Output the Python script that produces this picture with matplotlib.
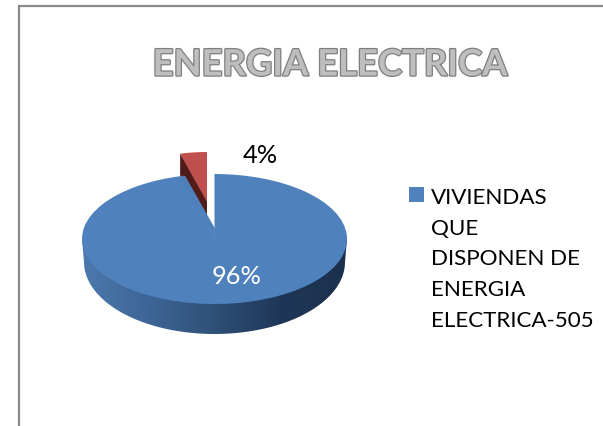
import numpy as np
import matplotlib
matplotlib.use("Agg")
import matplotlib.pyplot as plt
import matplotlib.patheffects as pe
from matplotlib.patches import Rectangle, PathPatch, Polygon
from matplotlib.path import Path

title = "ENERGIA ELECTRICA"
categories = ["VIVIENDAS\nQUE\nDISPONEN DE\nENERGIA\nELECTRICA-505", "OTRAS"]
values = [96, 4]
value_labels = ["96%", "4%"]

W, H = 603, 426
CX, CY, RX, RY = 214.5, 239.0, 132.5, 65.0
K = RX / RY


def Y(py):
    return (H - py) * K


fig = plt.figure(figsize=(W / 100, H / 100), dpi=100, facecolor="white")
ax = fig.add_axes([0, 0, 1, 1])
wedges, _ = ax.pie(values, startangle=90, counterclock=False,
                   colors=["#4f81bd", "#c0504d"], center=(CX, Y(CY)), radius=RX,
                   wedgeprops=dict(linewidth=0))
ax.set_aspect("auto")
ax.set_xlim(0, W)
ax.set_ylim(0, H * K)
ax.axis("off")

# chart border, running off the canvas on the right and bottom
ax.add_patch(Rectangle((19, Y(H + 10)), W, Y(6) - Y(H + 10), fill=False,
                       edgecolor="#8a8a8a", linewidth=1.6, zorder=1))

# side wall with horizontal gradient
t = np.linspace(np.pi, 2 * np.pi, 120)
bx, by = 214.5 + 130.5 * np.cos(t), 262 + 72 * (-np.sin(t))
wall = np.column_stack([np.r_[CX - RX, bx, CX + RX], Y(np.r_[CY, by, CY])])
clip = PathPatch(Path(wall), facecolor="none", edgecolor="none", transform=ax.transData)
ax.add_patch(clip)
stops = np.array([[0x4c, 0x79, 0xad], [0x3d, 0x66, 0x96], [0x2f, 0x50, 0x78],
                  [0x1f, 0x37, 0x57], [0x1b, 0x30, 0x4d]]) / 255
grad = np.array([np.interp(np.linspace(0, 1, 256), [0, .25, .5, .75, 1], stops[:, i]) for i in range(3)]).T
im = ax.imshow(grad[None, :, :], extent=(82, 347, Y(340), Y(230)), aspect="auto", zorder=1.5)
im.set_clip_path(clip)
ax.set_xlim(0, W)
ax.set_ylim(0, H * K)

# pulled-out slice, below the large one
red = wedges[1]
red.set_center((207, Y(205)))
red.set_radius(108)
red.set_zorder(2.05)
a = np.deg2rad(red.theta2)
lx, ly = 207 + 108 * np.cos(a), Y(205) + 108 * np.sin(a)
ax.add_patch(Polygon([(lx, ly), (207, Y(202)), (207, Y(220)), (lx, ly - 60)],
                     facecolor="#4f1c1a", edgecolor="none", zorder=2.1))

# top face of the large slice; its tip sits above the ellipse centre
wedges[0].set_zorder(2.3)
end = np.deg2rad(wedges[0].theta1)
ex, ey = CX + RX * np.cos(end), Y(CY) + RX * np.sin(end)
ax.add_patch(Polygon([(CX, Y(CY)), (ex, ey), (185, Y(176.5)), (CX, Y(228.5))],
                     facecolor="#4f81bd", edgecolor="#4f81bd", linewidth=0.6, zorder=2.4))

font = "Lato"
ax.text(329.5, Y(65), title, family=font, fontweight="bold", fontsize=26.2, ha="center", va="center",
        color="#bebebe", zorder=5,
        path_effects=[pe.withStroke(linewidth=1.8, foreground="#7f7f7f")])
ax.text(237, Y(277), value_labels[0], family=font, fontsize=18.3, color="white", ha="center", va="center", zorder=5)
ax.text(260, Y(155.5), value_labels[1], family=font, fontsize=18.3, color="black", ha="center", va="center", zorder=5)

# legend
ax.legend([wedges[0]], [categories[0]], loc="upper left", bbox_to_anchor=(409 / W, 1 - 188 / H),
          frameon=False, prop=dict(family=font, size=16.1), labelspacing=0,
          handlelength=0.67, handleheight=0.67, handletextpad=0.33, borderpad=0, borderaxespad=0)
leg = ax.get_legend()
for tx in leg.get_texts():
    tx.set_linespacing(1.67)
hd = leg.legend_handles[0]
hd.set_y(hd.get_y() + 47)

fig.savefig("out.png", dpi=100, facecolor="white")
